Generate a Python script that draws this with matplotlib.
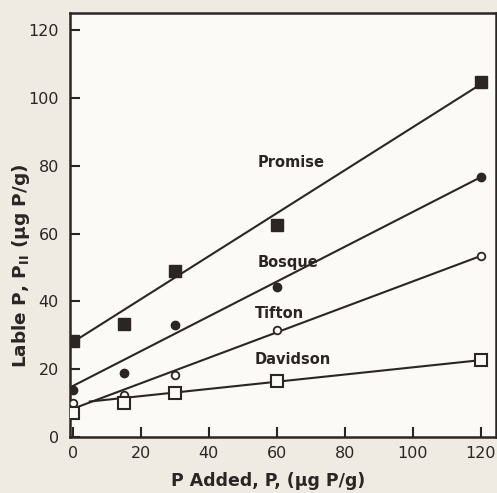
import matplotlib
matplotlib.use("Agg")
import matplotlib.pyplot as plt
import numpy as np

# Data
p_added = [0, 15, 30, 60, 120]
promise = [28.5, 33.5, 49, 62.5, 104.5]
bosque = [14, 19, 33, 44.3, 76.6]
tifton = [10, 12.5, 18.3, 31.6, 53.3]
davidson = [7.2, 10, 13, 16.5, 22.7]

# fitted lines: (intercept, slope, x_start, x_end)
fit_promise = (28.0, 0.633, 0, 120)
fit_bosque = (15.1, 0.5125, 0, 120)
fit_tifton = (8.4, 0.375, 2, 120)
fit_davidson = (10.0, 0.106, 5, 120)

labels = ["Promise", "Bosque", "Tifton", "Davidson"]
label_pos = [(54.5, 81), (54.5, 51.6), (53.5, 36.6), (53.5, 22.8)]

xticks = [0, 20, 40, 60, 80, 100, 120]
yticks = [0, 20, 40, 60, 80, 100, 120]

ink = "#2b2623"

fig = plt.figure(figsize=(4.97, 4.93), dpi=100)
fig.patch.set_facecolor("#efeae2")
ax = fig.add_axes([0.141, 0.113, 0.857, 0.861])
ax.set_facecolor("#fbfaf7")

for fit in (fit_promise, fit_bosque, fit_tifton, fit_davidson):
    b, m, x0, x1 = fit
    xs = np.array([x0, x1])
    ax.plot(xs, b + m * xs, color=ink, lw=1.5, zorder=2)

ax.plot(p_added, promise, ls="none", marker="s", ms=8.5, color=ink, zorder=3)
ax.plot(p_added, bosque, ls="none", marker="o", ms=6, color=ink, zorder=3)
ax.plot(p_added, tifton, ls="none", marker="o", ms=5.5, mfc="#fbfaf7", mec=ink, mew=1.3, zorder=3)
ax.plot(p_added, davidson, ls="none", marker="s", ms=8, mfc="#fbfaf7", mec=ink, mew=1.5, zorder=3)

for lab, (lx, ly) in zip(labels, label_pos):
    ax.text(lx, ly, lab, fontsize=10.5, color=ink, fontweight="bold",
            family="DejaVu Sans", ha="left", va="center")

ax.set_xlim(-0.8, 124.5)
ax.set_ylim(0, 125)
ax.set_xticks(xticks)
ax.set_yticks(yticks)
ax.tick_params(direction="in", length=7, width=1.5, color=ink, labelcolor=ink,
               labelsize=11.5, pad=8)
ax.tick_params(axis="x", pad=6)
for s in ax.spines.values():
    s.set_color(ink)
    s.set_linewidth(1.8)

ax.set_xlabel("P Added, P, (μg P/g)", fontsize=12.5, color=ink, fontweight="bold")
ax.xaxis.set_label_coords(0.465, -0.082)
ax.set_ylabel("Lable P, P$_{\\mathregular{II}}$ (μg P/g)", fontsize=13.3, color=ink,
              fontweight="bold")
ax.yaxis.set_label_coords(-0.089, 0.405)

fig.savefig("out.png", dpi=100, facecolor=fig.get_facecolor())
